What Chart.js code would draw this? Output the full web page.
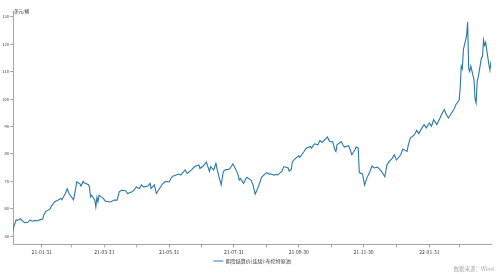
<!DOCTYPE html>
<html>
<head>
<meta charset="utf-8">
<script src="https://cdn.jsdelivr.net/npm/chart.js@4.4.0/dist/chart.umd.min.js"></script>
<style>
  html, body { margin: 0; padding: 0; background: #fff; }
  #wrap { position: relative; width: 500px; height: 274px; }
  #unit { position: absolute; left: 14px; top: 9px; font-size: 4.5px; line-height: 1; font-family: "Noto Sans CJK SC"; color: #333; }
  #source { position: absolute; right: 6px; top: 267px; font-size: 5.5px; line-height: 1; font-family: "Noto Sans CJK SC"; color: #aaa; }
</style>
</head>
<body>
<div id="wrap">
  <canvas id="chart" width="500" height="274"></canvas>
  <div id="unit">美元/桶</div>
  <div id="source">数据来源：Wind</div>
</div>
<script>
// 期货结算价(连续):布伦特原油, 21-01 ~ 22-03（図から読み取った概算値）
const seriesName = "期货结算价(连续):布伦特原油";

const dates = [
  "2021-01-04", "2021-01-05", "2021-01-07", "2021-01-08", "2021-01-11", "2021-01-13", "2021-01-15", "2021-01-18",
  "2021-01-20", "2021-01-22", "2021-01-25", "2021-01-27", "2021-01-29", "2021-02-01", "2021-02-02", "2021-02-04",
  "2021-02-08", "2021-02-09", "2021-02-11", "2021-02-12", "2021-02-16", "2021-02-18", "2021-02-19", "2021-02-22",
  "2021-02-24", "2021-02-26", "2021-03-02", "2021-03-04", "2021-03-05", "2021-03-08", "2021-03-09", "2021-03-11",
  "2021-03-12", "2021-03-16", "2021-03-17", "2021-03-18", "2021-03-19", "2021-03-22", "2021-03-23", "2021-03-24",
  "2021-03-25", "2021-03-26", "2021-03-30", "2021-04-01", "2021-04-06", "2021-04-09", "2021-04-12", "2021-04-14",
  "2021-04-16", "2021-04-20", "2021-04-22", "2021-04-26", "2021-04-28", "2021-04-30", "2021-05-03", "2021-05-05",
  "2021-05-07", "2021-05-11", "2021-05-13", "2021-05-14", "2021-05-17", "2021-05-19", "2021-05-21", "2021-05-24",
  "2021-05-26", "2021-05-28", "2021-05-31", "2021-06-02", "2021-06-04", "2021-06-09", "2021-06-11", "2021-06-15",
  "2021-06-17", "2021-06-21", "2021-06-24", "2021-06-28", "2021-06-29", "2021-07-02", "2021-07-05", "2021-07-08",
  "2021-07-09", "2021-07-12", "2021-07-14", "2021-07-16", "2021-07-19", "2021-07-21", "2021-07-23", "2021-07-27",
  "2021-07-30", "2021-08-02", "2021-08-04", "2021-08-05", "2021-08-06", "2021-08-09", "2021-08-12", "2021-08-16",
  "2021-08-18", "2021-08-19", "2021-08-20", "2021-08-23", "2021-08-26", "2021-08-30", "2021-08-31", "2021-09-02",
  "2021-09-03", "2021-09-07", "2021-09-09", "2021-09-10", "2021-09-14", "2021-09-16", "2021-09-20", "2021-09-21",
  "2021-09-23", "2021-09-24", "2021-09-27", "2021-09-30", "2021-10-01", "2021-10-05", "2021-10-07", "2021-10-11",
  "2021-10-12", "2021-10-14", "2021-10-15", "2021-10-18", "2021-10-20", "2021-10-22", "2021-10-25", "2021-10-27",
  "2021-10-29", "2021-11-01", "2021-11-03", "2021-11-04", "2021-11-05", "2021-11-09", "2021-11-11", "2021-11-12",
  "2021-11-16", "2021-11-18", "2021-11-19", "2021-11-22", "2021-11-23", "2021-11-25", "2021-11-26", "2021-11-29",
  "2021-12-01", "2021-12-03", "2021-12-06", "2021-12-08", "2021-12-10", "2021-12-13", "2021-12-15", "2021-12-17",
  "2021-12-20", "2021-12-22", "2021-12-24", "2021-12-27", "2021-12-29", "2021-12-31", "2022-01-04", "2022-01-06",
  "2022-01-10", "2022-01-11", "2022-01-13", "2022-01-17", "2022-01-19", "2022-01-21", "2022-01-24", "2022-01-26",
  "2022-01-28", "2022-01-31", "2022-02-02", "2022-02-04", "2022-02-07", "2022-02-10", "2022-02-11", "2022-02-14",
  "2022-02-16", "2022-02-18", "2022-02-21", "2022-02-23", "2022-02-25", "2022-02-28", "2022-03-01", "2022-03-02",
  "2022-03-03", "2022-03-04", "2022-03-07", "2022-03-08", "2022-03-09", "2022-03-10", "2022-03-11", "2022-03-14",
  "2022-03-15", "2022-03-16", "2022-03-17", "2022-03-18", "2022-03-21", "2022-03-22", "2022-03-23", "2022-03-24",
  "2022-03-25", "2022-03-28", "2022-03-29", "2022-03-30"
];

const brent = [
  52.0, 53.9, 56.0, 55.8, 56.4, 55.6, 55.0, 55.1,
  56.0, 55.5, 55.8, 55.6, 56.0, 56.3, 57.9, 59.1,
  60.0, 61.0, 61.9, 62.5, 63.3, 63.8, 63.3, 65.4,
  67.3, 65.4, 63.3, 67.5, 69.8, 69.1, 68.3, 70.0,
  69.5, 68.8, 68.0, 64.4, 65.0, 63.2, 60.7, 64.2,
  62.6, 65.0, 63.8, 62.8, 62.5, 63.2, 63.2, 66.2,
  66.8, 66.6, 65.6, 66.2, 66.8, 68.0, 67.4, 68.7,
  68.0, 68.3, 69.3, 67.4, 68.7, 65.6, 66.8, 68.7,
  69.5, 70.0, 69.8, 71.3, 72.0, 72.7, 72.3, 74.2,
  72.9, 74.2, 75.4, 76.0, 74.7, 75.6, 77.0, 73.6,
  75.4, 74.2, 76.6, 73.0, 68.7, 73.6, 74.2, 74.5,
  76.4, 74.2, 72.3, 70.5, 71.1, 69.3, 71.5, 70.5,
  68.7, 66.8, 65.4, 68.0, 71.5, 73.0, 73.2, 72.6,
  72.8, 72.3, 72.6, 72.3, 73.6, 75.4, 74.9, 73.8,
  74.4, 77.2, 78.4, 79.3, 78.8, 80.9, 82.1, 82.7,
  82.1, 83.3, 83.7, 83.3, 84.9, 84.2, 85.4, 86.2,
  84.5, 84.4, 81.5, 80.9, 83.3, 84.5, 83.0, 82.5,
  83.0, 80.9, 79.7, 81.6, 82.5, 82.1, 73.2, 72.7,
  68.7, 71.1, 73.6, 75.6, 74.9, 75.2, 74.5, 73.6,
  71.7, 76.0, 77.2, 78.4, 79.7, 77.8, 79.7, 81.8,
  80.9, 83.0, 85.8, 87.0, 88.6, 87.4, 89.5, 90.7,
  89.5, 91.3, 90.1, 92.5, 90.7, 93.1, 94.0, 96.2,
  94.3, 93.1, 95.0, 96.2, 98.0, 99.5, 104.0, 112.0,
  111.0, 118.0, 123.0, 128.0, 111.0, 110.0, 112.0, 107.0,
  100.0, 98.5, 106.5, 108.0, 115.0, 115.5, 121.5, 119.5,
  120.6, 112.5, 110.5, 113.8
];

// x軸の目盛り（月末）。ラベルは奇数月のみ
const monthEnds = [
  "2021-01-31", "2021-02-28", "2021-03-31", "2021-04-30", "2021-05-31", "2021-06-30", "2021-07-31",
  "2021-08-31", "2021-09-30", "2021-10-31", "2021-11-30", "2021-12-31", "2022-01-31", "2022-02-28"
];

const yMin = 47.1;
const yMax = 131.8;

const lineColor = "#2b78ab";
const axisColor = "#a6a6a6";
const textColor = "#333";
const fontFamily = "'Noto Sans CJK SC', 'Liberation Sans', sans-serif";

function dayNum(s) {
  const [y, m, d] = s.split("-").map(Number);
  return Date.UTC(y, m - 1, d) / 86400000;
}

function tickLabel(value) {
  const dt = new Date(Math.round(value) * 86400000);
  const m = dt.getUTCMonth() + 1;
  if (m % 2 === 0) return "";
  const yy = String(dt.getUTCFullYear()).slice(2);
  const mm = String(m).padStart(2, "0");
  const dd = String(dt.getUTCDate()).padStart(2, "0");
  return `${yy}-${mm}-${dd}`;
}

const points = dates.map((d, i) => ({ x: dayNum(d), y: brent[i] }));

new Chart(document.getElementById("chart").getContext("2d"), {
  type: "line",
  data: {
    datasets: [
      {
        label: seriesName,
        data: points,
        borderColor: lineColor,
        backgroundColor: lineColor,
        borderWidth: 1.1,
        pointRadius: 0,
        tension: 0,
        fill: false,
      },
    ],
  },
  options: {
    responsive: false,
    animation: false,
    devicePixelRatio: 1,
    layout: { padding: { top: 11.7, right: 9, bottom: 0.5, left: 0 } },
    plugins: {
      tooltip: { enabled: false },
      legend: {
        position: "bottom",
        fullSize: false,
        labels: {
          color: textColor,
          font: { size: 5, family: fontFamily },
          usePointStyle: true,
          pointStyle: "line",
          pointStyleWidth: 10,
          boxHeight: 5,
          padding: 4,
        },
      },
    },
    scales: {
      x: {
        type: "linear",
        min: dayNum(dates[0]),
        max: dayNum(dates[dates.length - 1]),
        afterBuildTicks: (scale) => {
          scale.ticks = monthEnds.map((s) => ({ value: dayNum(s) }));
        },
        afterFit: (scale) => {
          scale.height = 10.2;
        },
        grid: { display: true, drawOnChartArea: false, drawTicks: true, tickLength: 3, color: axisColor },
        border: { display: true, color: axisColor, width: 1 },
        ticks: {
          autoSkip: false,
          maxRotation: 0,
          padding: 1.5,
          color: textColor,
          font: { size: 5, family: fontFamily },
          callback: (v) => tickLabel(v),
        },
      },
      y: {
        min: yMin,
        max: yMax,
        afterFit: (scale) => {
          scale.width = 13;
        },
        grid: { display: true, drawOnChartArea: false, drawTicks: true, tickLength: 3, color: axisColor },
        border: { display: true, color: axisColor, width: 1 },
        ticks: {
          stepSize: 10,
          includeBounds: false,
          padding: 1,
          color: textColor,
          font: { size: 4, family: fontFamily },
        },
      },
    },
  },
});
</script>
</body>
</html>
